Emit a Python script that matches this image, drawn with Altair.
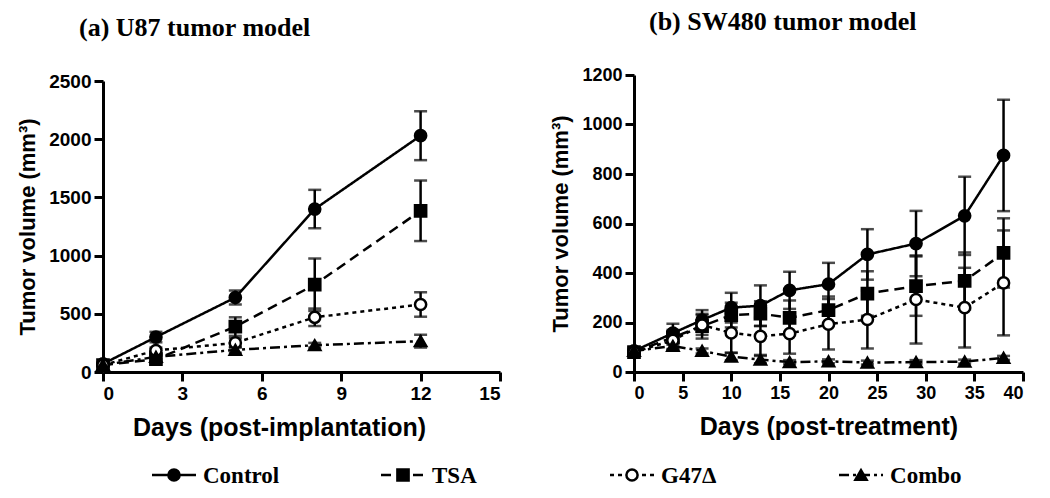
import altair as alt
import pandas as pd

series = ["Control", "TSA", "G47Δ", "Combo"]

# (a) U87 tumor model
days_a = [0, 2, 5, 8, 12]
control_a = [70, 300, 640, 1400, 2030]
control_a_err = [15, 45, 60, 165, 210]
tsa_a = [60, 110, 390, 750, 1385]
tsa_a_err = [10, 30, 80, 225, 260]
g47_a = [60, 185, 250, 470, 580]
g47_a_err = [10, 25, 40, 75, 105]
combo_a = [60, 130, 190, 230, 265]
combo_a_err = [10, 20, 25, 20, 55]

# (b) SW480 tumor model
days_b = [0, 4, 7, 10, 13, 16, 20, 24, 29, 34, 38]
control_b = [85, 157, 210, 260, 268, 330, 355, 475, 519, 631, 875]
control_b_err = [15, 38, 40, 60, 82, 75, 86, 102, 132, 158, 225]
tsa_b = [80, 140, 185, 230, 236, 219, 250, 317, 347, 368, 481]
tsa_b_err = [10, 30, 50, 50, 50, 70, 55, 90, 120, 115, 140]
g47_b = [80, 128, 190, 158, 144, 155, 193, 212, 293, 260, 360]
g47_b_err = [10, 35, 40, 80, 75, 81, 102, 117, 178, 161, 212]
combo_b = [85, 105, 85, 62, 50, 40, 43, 38, 40, 42, 57]
combo_b_err = [10, 15, 10, 15, 15, 8, 8, 8, 8, 8, 8]

xticks_a = [0, 3, 6, 9, 12, 15]
yticks_a = [0, 500, 1000, 1500, 2000, 2500]
xticks_b = [0, 5, 10, 15, 20, 25, 30, 35, 40]
yticks_b = [0, 200, 400, 600, 800, 1000, 1200]


def long_frame(days, vals, errs):
    rows = []
    for name, v, e in zip(series, vals, errs):
        for d, vv, ee in zip(days, v, e):
            rows.append({"day": d, "value": vv, "err": ee, "series": name})
    return pd.DataFrame(rows)


df_a = long_frame(days_a, [control_a, tsa_a, g47_a, combo_a],
                  [control_a_err, tsa_a_err, g47_a_err, combo_a_err])
df_b = long_frame(days_b, [control_b, tsa_b, g47_b, combo_b],
                  [control_b_err, tsa_b_err, g47_b_err, combo_b_err])

dash_scale = alt.Scale(domain=series, range=[[1, 0], [10, 6], [4, 4], [10, 4, 3, 4]])
shape_scale = alt.Scale(domain=series, range=["circle", "square", "circle", "triangle-up"])
fill_scale = alt.Scale(domain=series, range=["black", "black", "white", "black"])

SANS = "Liberation Sans"
SERIF = "Liberation Serif"
YTITLE = "Tumor volume (mm³)"


def panel(df, xdom, xticks, xtitle, ydom, yticks, width, height, yrange, title, title_dx,
          label_size, title_x=None):
    xaxis_kw = dict(values=xticks, title=xtitle, labelFontSize=label_size, format="d")
    if title_x is not None:
        xaxis_kw["titleX"] = title_x
    xenc = alt.X("day:Q", scale=alt.Scale(domain=xdom, nice=False, zero=False, padding=0),
                 axis=alt.Axis(**xaxis_kw))
    yscale = alt.Scale(domain=ydom, nice=False, range=yrange, padding=0)
    yaxis = alt.Axis(values=yticks, title=YTITLE, labelFontSize=label_size, format="d")
    base = alt.Chart(df)
    lines = base.mark_line(color="black", strokeWidth=2.5).encode(
        x=xenc,
        y=alt.Y("value:Q", scale=yscale, axis=yaxis),
        strokeDash=alt.StrokeDash("series:N", scale=dash_scale, legend=None),
        detail="series:N",
    )
    bars = base.transform_calculate(
        lo="datum.value - datum.err", hi="datum.value + datum.err"
    ).mark_errorbar(color="black", thickness=2.5,
                    ticks={"size": 13, "thickness": 2.5, "color": "black"}).encode(
        x=xenc,
        y=alt.Y("lo:Q", scale=yscale, axis=yaxis),
        y2="hi:Q",
        detail="series:N",
    )
    pts = base.mark_point(filled=True, size=125, stroke="black", strokeWidth=2.5,
                          opacity=1).encode(
        x=xenc,
        y=alt.Y("value:Q", scale=yscale, axis=yaxis),
        shape=alt.Shape("series:N", scale=shape_scale, legend=None),
        fill=alt.Fill("series:N", scale=fill_scale, legend=None),
    )
    return alt.layer(lines, bars, pts).properties(
        width=width, height=height,
        title=alt.Title(title, font=SERIF, fontSize=26, fontWeight="bold", color="black",
                        anchor="start", frame="group", dx=title_dx, offset=31),
    )


left = panel(df_a, [0, 15], xticks_a, "Days (post-implantation)", [0, 2500], yticks_a,
             397, 297, [297, 6], "(a) U87 tumor model", -24, 19, title_x=176)
right = panel(df_b, [0, 40], xticks_b, "Days (post-treatment)", [0, 1200], yticks_b,
              389, 297, [297, 0], "(b) SW480 tumor model", 15, 18)

legend_df = pd.DataFrame({"series": series, "idx": list(range(len(series)))})
lx = alt.X("idx:Q", scale=alt.Scale(domain=[-0.31, 3.62], nice=False, zero=False),
           axis=None)
lbase = alt.Chart(legend_df)
l_rule = lbase.mark_rule(color="black", strokeWidth=2.5, xOffset=-22, x2Offset=22).encode(
    x=lx, x2="idx:Q", y=alt.value(7),
    strokeDash=alt.StrokeDash("series:N", scale=dash_scale, legend=None),
)
l_pts = lbase.mark_point(filled=True, size=125, stroke="black", strokeWidth=2.5,
                         opacity=1).encode(
    x=lx, y=alt.value(7),
    shape=alt.Shape("series:N", scale=shape_scale, legend=None),
    fill=alt.Fill("series:N", scale=fill_scale, legend=None),
)
l_text = lbase.mark_text(align="left", baseline="middle", dx=29, font=SERIF, fontSize=23,
                         fontWeight="bold", color="black").encode(
    x=lx, y=alt.value(8), text="series:N")
legend = alt.layer(l_rule, l_pts, l_text).properties(width=900, height=14)

chart = alt.vconcat(
    alt.hconcat(left, right, spacing=47),
    legend,
    spacing=24,
).properties(
    padding={"left": 8, "top": 1, "right": 0, "bottom": 0},
    background="white",
).configure_view(stroke=None).configure_axis(
    grid=False,
    domainColor="black", domainWidth=3,
    tickColor="black", tickWidth=3, tickSize=9,
    labelFont=SANS, labelFontWeight="bold", labelColor="black", labelPadding=3,
    titleFont=SANS, titleFontWeight="bold", titleColor="black",
).configure_axisY(titlePadding=9, titleFontSize=22).configure_axisX(
    titlePadding=12, titleFontSize=25)

chart.save("out.html", embed_options={"renderer": "svg", "actions": False})
